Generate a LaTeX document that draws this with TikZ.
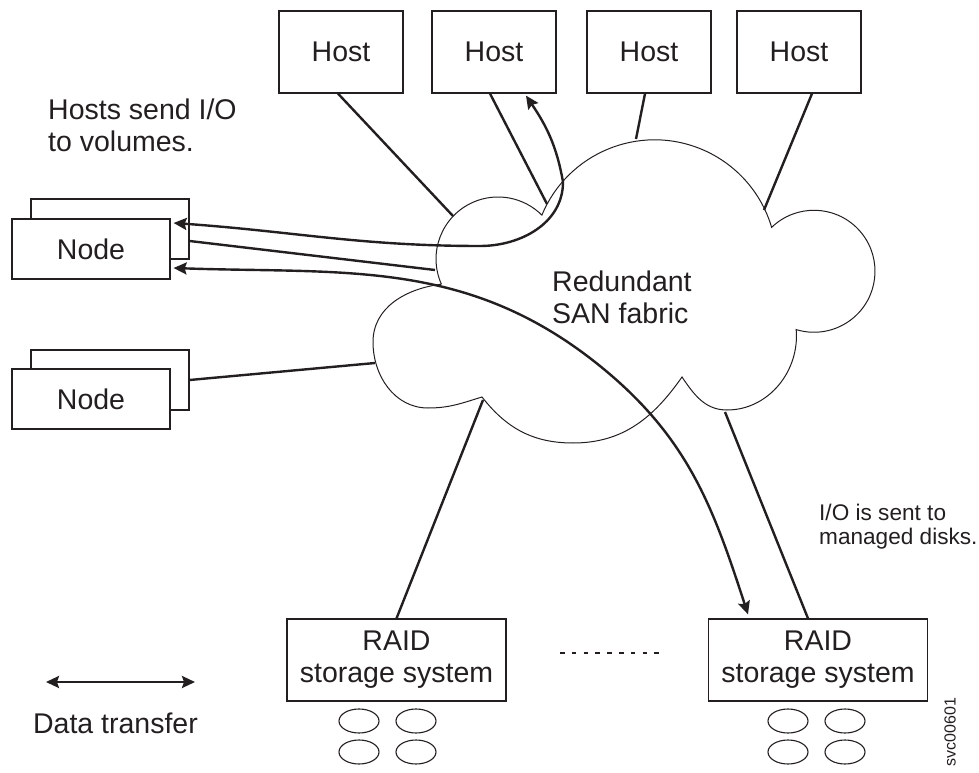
\documentclass[tikz,border=0pt]{standalone}
\usepackage{fontspec}
\setmainfont{Liberation Sans}
\usetikzlibrary{arrows.meta}
\definecolor{ink}{RGB}{35,31,32}
\tikzset{>={Stealth[length=13pt,width=12pt,inset=2pt]},
  box/.style={draw=ink,line width=1.2pt,fill=white,inner sep=0pt},
  host/.style={box,minimum width=124pt,minimum height=82pt},
  nodebox/.style={box,minimum width=158pt,minimum height=60pt},
  raid/.style={box,minimum width=219pt,minimum height=82pt,align=center},
  link/.style={draw=ink,line width=2.4pt},
  flow/.style={link,<->},
  disk/.style={draw=ink,line width=1.1pt},
  cloudline/.style={draw=ink,line width=1pt}}

\begin{document}
\begin{tikzpicture}[x=1pt,y=1pt,font=\fontsize{28.5}{32}\selectfont,text=ink]
\useasboundingbox (0,0) rectangle (979,772);

\node[host] (h1) at (341,720) {Host};
\node[host] (h2) at (494,720) {Host};
\node[host] (h3) at (649,720) {Host};
\node[host] (h4) at (799,720) {Host};

\node[nodebox] (n1b) at (110,543) {};
\node[nodebox] (n1) at (91,523) {Node};
\node[nodebox] (n2b) at (110,392) {};
\node[nodebox] (n2) at (91,373) {Node};

\node[raid] (r1) at (396.5,112) {RAID\\storage system};
\node[raid] (r2) at (818,112) {RAID\\storage system};

\node[anchor=north west,align=left,inner sep=0pt] (hint) at (48,673) {Hosts send I/O\\to volumes.};
\node[anchor=north west,align=left,inner sep=0pt] (san) at (552,501) {Redundant\\SAN fabric};
\node[anchor=north west,align=left,inner sep=0pt,font=\fontsize{22.6}{24.5}\selectfont] (mdisk) at (819,268.5) {I/O is sent to\\managed disks.};
\node[anchor=base] (dtext) at (115.5,39) {Data transfer};
\node[rotate=90,font=\fontsize{16}{18}\selectfont] (tag) at (950,40) {svc00601};

\draw[cloudline] (441.4,487.8) arc[start angle=204,end angle=45,radius=62]
  arc[start angle=157.5,end angle=16.4,radius=122]
  arc[start angle=134,end angle=-107,radius=61]
  to[out=-85,in=0] (727,362) to[out=180,in=-56] (682,395)
  to[out=235,in=0] (573,329) to[out=180,in=-52] (482,375)
  to[out=197,in=0] (428,364) to[out=180,in=-90] (373,430)
  to[out=90,in=187] (441.4,487.8);

\coordinate (ch1) at (453,556);
\coordinate (ch2) at (547,568);
\coordinate (ch3) at (636,633);
\coordinate (ch4) at (764,562);
\coordinate (cn1) at (435,502);
\coordinate (cn2) at (375,409);
\coordinate (cr1) at (483,372);
\coordinate (cr2) at (725,360);
\coordinate (b1) at (480,526);
\coordinate (b2) at (563,590);
\coordinate (m1) at (600,406);

\draw[link] ([xshift=-3pt]h1.south) -- (ch1);
\draw[link] ([xshift=-4pt]h2.south) -- (ch2);
\draw[link] ([xshift=-4pt]h3.south) -- (ch3);
\draw[link] ([xshift=13pt]h4.south) -- (ch4);
\draw[link] ([yshift=-12pt]n1b.east) -- (cn1);
\draw[link] (n2b.east) -- (cn2);
\draw[link] (r1.north) -- (cr1);
\draw[link] ([xshift=-10pt]r2.north) -- (cr2);

\draw[flow] ([shift={(3,26)}]n1.east) to[out=-4,in=180] (b1)
  to[out=0,in=-90] (b2) to[out=100,in=-56] ([shift={(32,-2)}]h2.south);
\draw[flow] ([shift={(3,-19)}]n1.east) to[out=-2,in=141] (m1)
  to[out=-39,in=108] ([shift={(-70,4)}]r2.north);

\foreach \dx in {359,416,788,845}
  \foreach \dy in {51,20}
    \draw[disk] (\dx,\dy) ellipse [x radius=20,y radius=12];

\draw[draw=ink,line width=2pt,dash pattern=on 4.5pt off 7.3pt] (560,119) -- (659,119);

\coordinate (dtl) at (46,90);
\coordinate (dtr) at (195,90);
\draw[flow] (dtl) -- (dtr);
\end{tikzpicture}
\end{document}
